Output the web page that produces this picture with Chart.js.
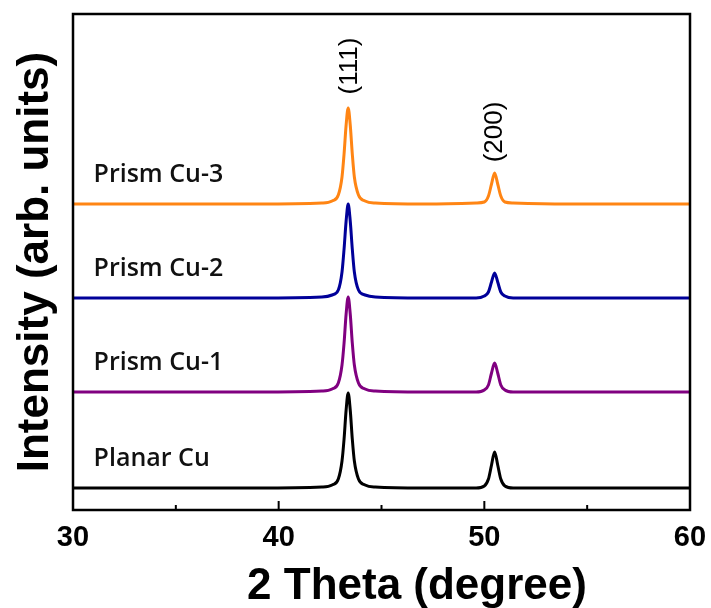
<!DOCTYPE html>
<html>
<head>
<meta charset="utf-8">
<script src="https://cdn.jsdelivr.net/npm/chart.js@4.4.1/dist/chart.umd.min.js"></script>
<style>
  body { margin: 0; background: #fff; }
  canvas { display: block; }
</style>
</head>
<body>
<canvas id="grafico" width="711" height="608"></canvas>
<script>
// 2 theta (degree) sample positions
const twoTheta = [30, 33, 36, 39, 42.1, 42.6, 42.9, 43.08, 43.18, 43.28, 43.38, 43.48, 43.58, 43.68, 43.88, 44.2, 44.7, 47,
    49.6, 50.0, 50.2, 50.35, 50.5, 50.65, 50.8, 51.0, 51.4, 54, 57, 60];

// intensities (arb. units), already stacked
const planarCu = [22, 22, 22, 22, 23, 25, 31, 49, 71, 100, 117, 100, 71, 49, 31, 25, 23, 22,
    22, 24, 31, 45, 58, 45, 31, 24, 22, 22, 22, 22];
const prismCu1 = [118, 118, 118, 118, 119, 121, 127, 145, 167, 196, 213, 196, 167, 145, 127, 121, 119, 118,
    118, 120, 125, 137, 147, 137, 125, 120, 118, 118, 118, 118];
const prismCu2 = [212, 212, 212, 212, 213, 215, 220, 238, 261, 289, 306, 289, 261, 238, 220, 215, 213, 212,
    212, 214, 218, 228, 237, 228, 218, 214, 212, 212, 212, 212];
const prismCu3 = [306, 306, 306, 306, 307, 309, 315, 333, 356, 385, 402, 385, 356, 333, 315, 309, 307, 306,
    307, 308, 314, 326, 337, 326, 314, 308, 307, 306, 306, 306];

const seriesNames = ['Planar Cu', 'Prism Cu-1', 'Prism Cu-2', 'Prism Cu-3'];
const seriesValues = [planarCu, prismCu1, prismCu2, prismCu3];

const peakLabels = ['(111)', '(200)'];
const peakAngles = [43.47, 50.52];
const peakLabelLevels = [444, 378];

const colores = ['#000000', '#800080', '#000099', '#ff8514'];
const fuenteArial = "'Liberation Sans', Arial, sans-serif";

const marcoPlugin = {
    id: 'marco',
    afterDatasetsDraw(chart) {
        const { ctx, chartArea: a, scales: { x, y } } = chart;
        ctx.save();

        // frame
        ctx.strokeStyle = '#000';
        ctx.lineWidth = 2.5;
        ctx.strokeRect(a.left, a.top, a.right - a.left, a.bottom - a.top);

        // inward ticks on bottom axis
        ctx.lineWidth = 2;
        for (let v = x.min + 5; v < x.max; v += 5) {
            const px = x.getPixelForValue(v);
            const largo = v % 10 === 0 ? 9 : 5;
            ctx.beginPath();
            ctx.moveTo(px, a.bottom);
            ctx.lineTo(px, a.bottom - largo);
            ctx.stroke();
        }

        // series names
        ctx.fillStyle = '#111';
        ctx.font = "600 25px 'Open Sans', sans-serif";
        ctx.textAlign = 'left';
        ctx.textBaseline = 'middle';
        seriesNames.forEach((nombre, i) => {
            ctx.fillText(nombre, x.getPixelForValue(31), y.getPixelForValue(seriesValues[i][0] + 29));
        });

        // peak labels
        ctx.fillStyle = '#000';
        ctx.font = '26px ' + fuenteArial;
        ctx.textAlign = 'center';
        peakLabels.forEach((txt, i) => {
            ctx.save();
            ctx.translate(x.getPixelForValue(peakAngles[i]), y.getPixelForValue(peakLabelLevels[i]));
            ctx.rotate(-Math.PI / 2);
            ctx.fillText(txt, 0, 0);
            ctx.restore();
        });

        // x axis title
        ctx.font = 'bold 44px ' + fuenteArial;
        ctx.textBaseline = 'alphabetic';
        ctx.fillText('2 Theta (degree)', 417, 599);

        ctx.restore();
    }
};

window.onload = function () {
    const ctx = document.getElementById('grafico').getContext('2d');

    const datasets = seriesValues.map((serie, i) => ({
        label: seriesNames[i],
        data: serie.map((v, j) => ({ x: twoTheta[j], y: v })),
        borderColor: colores[i],
        borderWidth: 3,
        pointRadius: 0,
        fill: false,
        cubicInterpolationMode: 'monotone'
    }));

    new Chart(ctx, {
        type: 'line',
        data: { datasets: datasets },
        options: {
            responsive: false,
            animation: false,
            layout: { padding: { top: 14, right: 21, left: 0, bottom: 0 } },
            plugins: {
                legend: { display: false },
                tooltip: { enabled: false }
            },
            scales: {
                x: {
                    type: 'linear',
                    min: 30,
                    max: 60,
                    afterFit: s => { s.height = 98; },
                    grid: { display: false },
                    border: { display: false },
                    ticks: {
                        stepSize: 10,
                        padding: 3,
                        color: '#000',
                        maxRotation: 0,
                        font: { family: fuenteArial, size: 29, weight: 'bold' }
                    }
                },
                y: {
                    min: 0,
                    max: 496,
                    afterFit: s => { s.width = 73; },
                    grid: { display: false },
                    border: { display: false },
                    ticks: { display: false },
                    title: {
                        display: true,
                        text: 'Intensity (arb. units)',
                        color: '#000',
                        padding: { top: 9, bottom: 0 },
                        font: { family: fuenteArial, size: 44, weight: 'bold', lineHeight: 1.2 }
                    }
                }
            }
        },
        plugins: [marcoPlugin]
    });
};
</script>
</body>
</html>
